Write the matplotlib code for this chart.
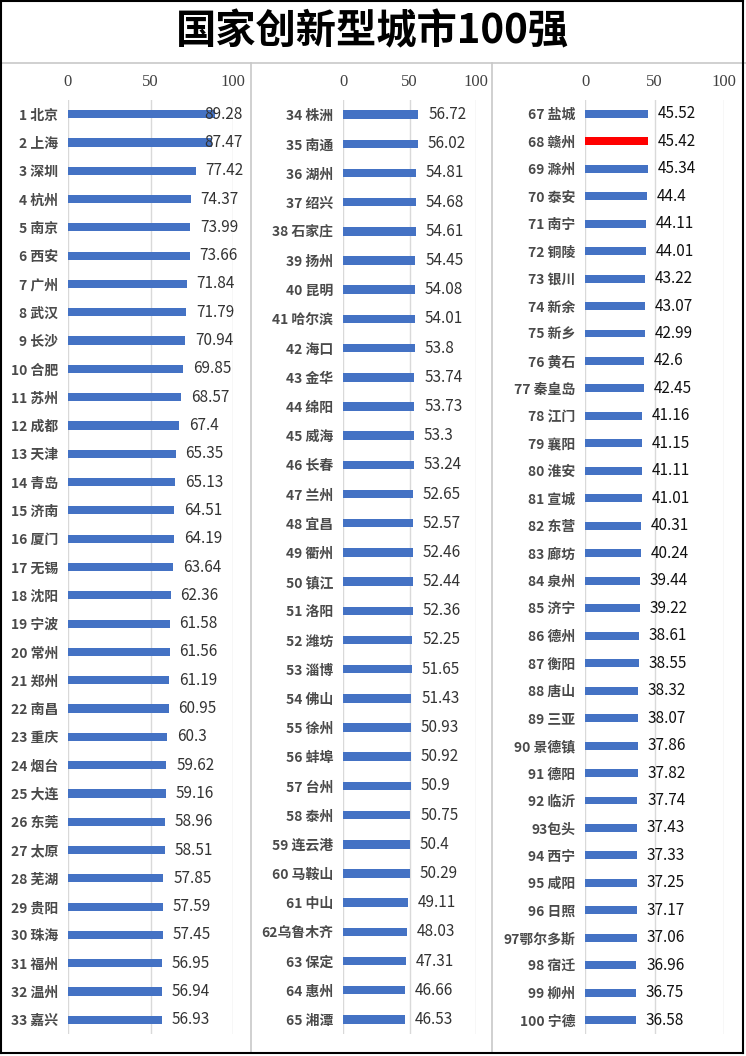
import matplotlib
matplotlib.use("Agg")
import matplotlib.pyplot as plt
from matplotlib.lines import Line2D

plt.rcParams['font.family'] = ['Noto Sans CJK SC', 'DejaVu Sans']

# === données ===
labels_1 = ["1 北京", "2 上海", "3 深圳", "4 杭州", "5 南京", "6 西安", "7 广州",
            "8 武汉", "9 长沙", "10 合肥", "11 苏州", "12 成都", "13 天津", "14 青岛",
            "15 济南", "16 厦门", "17 无锡", "18 沈阳", "19 宁波", "20 常州", "21 郑州",
            "22 南昌", "23 重庆", "24 烟台", "25 大连", "26 东莞", "27 太原", "28 芜湖",
            "29 贵阳", "30 珠海", "31 福州", "32 温州", "33 嘉兴"]
values_1 = [89.28, 87.47, 77.42, 74.37, 73.99, 73.66, 71.84, 71.79, 70.94, 69.85,
            68.57, 67.4, 65.35, 65.13, 64.51, 64.19, 63.64, 62.36, 61.58, 61.56,
            61.19, 60.95, 60.3, 59.62, 59.16, 58.96, 58.51, 57.85, 57.59, 57.45,
            56.95, 56.94, 56.93]

labels_2 = ["34 株洲", "35 南通", "36 湖州", "37 绍兴", "38 石家庄", "39 扬州", "40 昆明",
            "41 哈尔滨", "42 海口", "43 金华", "44 绵阳", "45 威海", "46 长春", "47 兰州",
            "48 宜昌", "49 衢州", "50 镇江", "51 洛阳", "52 潍坊", "53 淄博", "54 佛山",
            "55 徐州", "56 蚌埠", "57 台州", "58 泰州", "59 连云港", "60 马鞍山", "61 中山",
            "62乌鲁木齐", "63 保定", "64 惠州", "65 湘潭"]
values_2 = [56.72, 56.02, 54.81, 54.68, 54.61, 54.45, 54.08, 54.01, 53.8, 53.74,
            53.73, 53.3, 53.24, 52.65, 52.57, 52.46, 52.44, 52.36, 52.25, 51.65,
            51.43, 50.93, 50.92, 50.9, 50.75, 50.4, 50.29, 49.11, 48.03, 47.31,
            46.66, 46.53]

labels_3 = ["67 盐城", "68 赣州", "69 滁州", "70 泰安", "71 南宁", "72 铜陵", "73 银川",
            "74 新余", "75 新乡", "76 黄石", "77 秦皇岛", "78 江门", "79 襄阳", "80 淮安",
            "81 宣城", "82 东营", "83 廊坊", "84 泉州", "85 济宁", "86 德州", "87 衡阳",
            "88 唐山", "89 三亚", "90 景德镇", "91 德阳", "92 临沂", "93包头", "94 西宁",
            "95 咸阳", "96 日照", "97鄂尔多斯", "98 宿迁", "99 柳州", "100 宁德"]
values_3 = [45.52, 45.42, 45.34, 44.4, 44.11, 44.01, 43.22, 43.07, 42.99, 42.6,
            42.45, 41.16, 41.15, 41.11, 41.01, 40.31, 40.24, 39.44, 39.22, 38.61,
            38.55, 38.32, 38.07, 37.86, 37.82, 37.74, 37.43, 37.33, 37.25, 37.17,
            37.06, 36.96, 36.75, 36.58]

highlight = "68 赣州"
x_ticks = [0, 50, 100]

W, H = 746, 1056
BLUE = "#4472C4"
RED = "#FF0000"
GRID = "#D9D9D9"

fig = plt.figure(figsize=(W / 100, H / 100), dpi=100)
fig.patch.set_facecolor("white")

# position des 3 zones (pixels : gauche, largeur)
panels = [
    (labels_1, values_1, 68, 165, "#333333"),
    (labels_2, values_2, 343, 133, "#333333"),
    (labels_3, values_3, 585, 139, "#111111"),
]
top_px, bot_px = 100, 1034

for labels, values, left, width, vcol in panels:
    ax = fig.add_axes([left / W, 1 - bot_px / H, width / W, (bot_px - top_px) / H])
    n = len(labels)
    pos = list(range(n))
    colors = [RED if lab == highlight else BLUE for lab in labels]
    ax.barh(pos, values, height=0.29, color=colors, zorder=3)
    ax.set_xlim(0, 100)
    ax.set_ylim(n - 0.5, -0.5)
    ax.set_xticks(x_ticks)
    ax.set_xticklabels([str(t) for t in x_ticks], family="Liberation Serif",
                       fontsize=12, color="#404040")
    ax.xaxis.tick_top()
    ax.tick_params(axis="x", length=0, pad=7)
    ax.set_yticks(pos)
    ax.set_yticklabels(labels, fontsize=10, color="#4a4a4a", fontweight="bold")
    ax.tick_params(axis="y", length=0, pad=7)
    ax.grid(axis="x", color=GRID, linewidth=1, zorder=0)
    for s in ax.spines.values():
        s.set_visible(False)
    for p, v in zip(pos, values):
        # étiquette trop large -> Excel la rentre dans la zone
        if v > 85:
            ax.annotate(f"{v:g}", (100, p), xytext=(7, 0), textcoords="offset points",
                        ha="right", va="center", fontsize=11, color=vcol,
                        annotation_clip=False, zorder=4)
        else:
            ax.annotate(f"{v:g}", (v, p), xytext=(7, 0), textcoords="offset points",
                        ha="left", va="center", fontsize=11, color=vcol,
                        annotation_clip=False, zorder=4)

# titre
fig.text(372 / W, 1 - 32 / H, "国家创新型城市100强", ha="center", va="center",
         fontsize=29, fontweight="heavy", color="black")

# cadres
def px_line(x0, y0, x1, y1, color, lw):
    fig.add_artist(Line2D([x0 / W, x1 / W], [1 - y0 / H, 1 - y1 / H],
                          color=color, linewidth=lw, transform=fig.transFigure))

px_line(0, 63, W, 63, "#C8C8C8", 1.2)
px_line(251, 63, 251, 1053, "#C8C8C8", 1.2)
px_line(492, 63, 492, 1053, "#C8C8C8", 1.2)
px_line(1, 0.5, 743, 0.5, "black", 1.5)
px_line(1, 0, 1, 1053, "black", 1.5)
px_line(743, 0, 743, 1053, "black", 1.5)
px_line(1, 1053, 743, 1053, "black", 1.5)

plt.savefig("out.png", dpi=100, facecolor=fig.get_facecolor())
